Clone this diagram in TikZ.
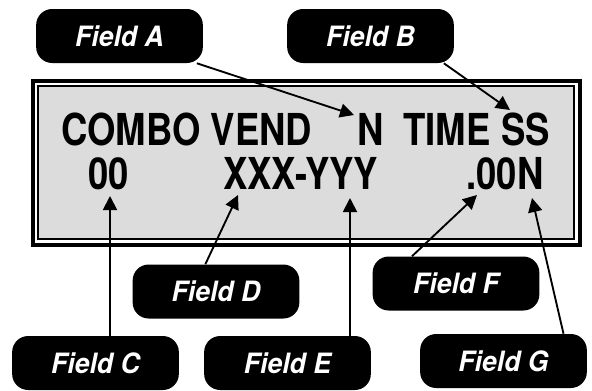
\documentclass[tikz,border=0pt]{standalone}
\usepackage{fontspec}
\setmainfont{TeX Gyre Heros}
\newfontfamily\lcdfont[FakeStretch=0.83]{TeX Gyre Heros}
\newfontfamily\tagfont[FakeStretch=0.95]{TeX Gyre Heros}
\usetikzlibrary{arrows.meta}

\tikzset{
  fieldbox/.style={fill=black, text=white, rounded corners=12pt, minimum width=125pt, minimum height=40.5pt, inner sep=0pt, font=\tagfont\bfseries\itshape\fontsize{21}{23}\selectfont},
  lcdtext/.style={anchor=base west, inner sep=0pt, font=\lcdfont\bfseries\fontsize{33}{36}\selectfont},
  pointer/.style={line width=1.4pt, -{Triangle[length=10.5pt,width=10.5pt]}}
}

\begin{document}
\begin{tikzpicture}[x=0.75pt,y=0.75pt,yscale=-1,xscale=1]
\useasboundingbox (0,0) rectangle (592,390);
%Shape: Rectangle [id:frame outer]
\draw [line width=3pt] (33,81) -- (580,81) -- (580,245) -- (33,245) -- cycle ;
%Shape: Rectangle [id:frame inner]
\draw [line width=1.5pt, fill={rgb, 255:red, 220; green, 220; blue, 220 }, fill opacity=1.0 ] (38,86) -- (574,86) -- (574,239) -- (38,239) -- cycle ;
% Text Node
\node (combo) [lcdtext] at (61,145) {COMBO VEND};
% Text Node
\node (flagN) [lcdtext] at (357,145) {N};
% Text Node
\node (timeT) [lcdtext] at (403,145) {TIME};
% Text Node
\node (timeSS) [lcdtext] at (501,145) {SS};
% Text Node
\node (combo00) [lcdtext] at (88,189) {00};
% Text Node
\node (vendXY) [lcdtext] at (223,189) {XXX-YYY};
% Text Node
\node (price) [lcdtext] at (466,189) {.00N};
% Field labels
\node (fieldA) [fieldbox] at (119.5,36) {Field A};
\node (fieldB) [fieldbox] at (370.5,36) {Field B};
\node (fieldC) [fieldbox] at (95.5,363) {Field C};
\node (fieldD) [fieldbox] at (216,291.5) {Field D};
\node (fieldE) [fieldbox] at (287.5,363) {Field E};
\node (fieldF) [fieldbox] at (456,283.5) {Field F};
\node (fieldG) [fieldbox] at (503.5,361) {Field G};
% arrow tips
\coordinate (tipA) at (354,115);
\coordinate (tipB) at (510,110);
\coordinate (tipC) at (110,196);
\coordinate (tipD) at (238,195);
\coordinate (tipE) at (350,198);
\coordinate (tipF) at (477,195);
\coordinate (tipG) at (532,198);
%Straight Lines
\draw [pointer] ([xshift=58pt]fieldA.south) -- (tipA);
\draw [pointer] ([xshift=55pt]fieldB.south) -- (tipB);
\draw [pointer] (fieldC.north -| tipC) -- (tipC);
\draw [pointer] ([xshift=-8pt]fieldD.north) -- (tipD);
\draw [pointer] (fieldE.north -| tipE) -- (tipE);
\draw [pointer] ([xshift=-33pt]fieldF.north) -- (tipF);
\draw [pointer] ([xshift=45pt]fieldG.north) -- (tipG);
\end{tikzpicture}
\end{document}
